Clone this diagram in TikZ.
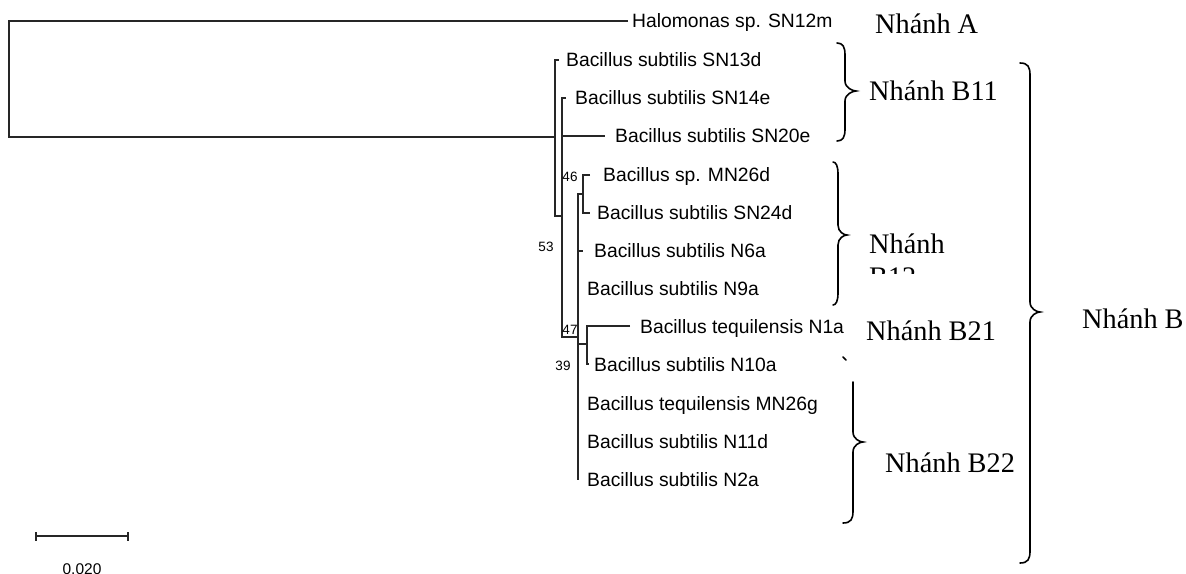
\documentclass[tikz,border=0pt]{standalone}
\usepackage{fontspec}
\setmainfont{Liberation Serif}
\newfontfamily\arialf{Liberation Sans}
\newcommand\wbrace[6]{% #1 hook x, #2 body x, #3 top y, #4 tip y, #5 bottom y, #6 tip x
  \draw[bracestyle] (#1,#3) .. controls (#2-2,#3) and (#2,#3+4) .. (#2,#3+12)
    -- (#2,#4-10) .. controls (#2,#4-3) and (#6-3,#4) .. (#6,#4)
    .. controls (#6-3,#4) and (#2,#4+3) .. (#2,#4+10)
    -- (#2,#5-12) .. controls (#2,#5-4) and (#2-2,#5) .. (#1,#5);}
\tikzset{
  treeline/.style={draw=black!85, line width=1.2pt},
  bracestyle/.style={draw=black, line width=1.6pt, line cap=round},
  leaf/.style={font=\arialf\fontsize{19.3}{22}\selectfont, anchor=west, inner sep=0pt, text height=13.8pt, text depth=0pt},
  boot/.style={font=\arialf\fontsize{13.5}{15}\selectfont, inner sep=0pt},
  clade/.style={font=\fontsize{28.3}{33}\selectfont, anchor=base west, inner sep=0pt},
}
\begin{document}
\begin{tikzpicture}[x=1pt, y=-1pt]
\useasboundingbox (0,0) rectangle (1186,573);
\clip (0,0) rectangle (1186,573);
% internal nodes
\coordinate (r)  at (9,78);
\coordinate (n1) at (555,137);
\coordinate (n2) at (562,216);
\coordinate (n3) at (578,337);
\coordinate (n4) at (583,194);
\coordinate (n5) at (587,344);
% leaf tips
\coordinate (tHal)  at (628,21);
\coordinate (tSN13d) at (559,60);
\coordinate (tSN14e) at (566,98);
\coordinate (tSN20e) at (605,136);
\coordinate (tMN26d) at (590,175);
\coordinate (tSN24d) at (590,213);
\coordinate (tN6a)  at (583,251);
\coordinate (tN9a)  at (578,289);
\coordinate (tN1a)  at (630,326);
\coordinate (tN10a) at (589,364);
\coordinate (tMN26g) at (578,404);
\coordinate (tN11d) at (578,442);
\coordinate (tN2a)  at (578,480);
% leaf labels
\node[leaf] (lHal)   at (632,21)  {Halomonas sp. SN12m};
\node[leaf] (lSN13d) at (566,60)  {Bacillus subtilis SN13d};
\node[leaf] (lSN14e) at (575,98)  {Bacillus subtilis SN14e};
\node[leaf] (lSN20e) at (615,136) {Bacillus subtilis SN20e};
\node[leaf] (lMN26d) at (603,175) {Bacillus sp. MN26d};
\node[leaf] (lSN24d) at (597,213) {Bacillus subtilis SN24d};
\node[leaf] (lN6a)   at (594,251) {Bacillus subtilis N6a};
\node[leaf] (lN9a)   at (587,289) {Bacillus subtilis N9a};
\node[leaf] (lN1a)   at (640,327) {Bacillus tequilensis N1a};
\node[leaf] (lN10a)  at (594,365) {Bacillus subtilis N10a};
\node[leaf] (lMN26g) at (587,404) {Bacillus tequilensis MN26g};
\node[leaf] (lN11d)  at (587,442) {Bacillus subtilis N11d};
\node[leaf] (lN2a)   at (587,480) {Bacillus subtilis N2a};
% branches
\draw[treeline] (tHal) -| (r) |- (n1);
\draw[treeline] (tSN13d) -| (n1) |- (n2);
\draw[treeline] (tSN14e) -| (n2) |- (n3);
\draw[treeline] (n2 |- tSN20e) -- (tSN20e);
\draw[treeline] (n4) -| (n3) |- (tN2a);
\draw[treeline] (n3 |- tN6a) -- (tN6a);
\draw[treeline] (n3 |- n5) -- (n5);
\draw[treeline] (tMN26d) -| (n4) |- (tSN24d);
\draw[treeline] (tN1a) -| (n5) |- (tN10a);
% bootstrap values
\node[boot] (b46) at (570,177) {46};
\node[boot] (b53) at (546,247) {53};
\node[boot] (b47) at (570,330) {47};
\node[boot] (b39) at (563,366) {39};
% scale bar
\coordinate (s1) at (36,536);
\coordinate (s2) at (128,536);
\draw[treeline] (s1) -- (s2);
\draw[treeline] ([yshift=-4.5pt]s1) -- ([yshift=4.5pt]s1);
\draw[treeline] ([yshift=-4.5pt]s2) -- ([yshift=4.5pt]s2);
\node[font=\arialf\fontsize{15.5}{17}\selectfont, inner sep=0pt, anchor=north] (sl) at (82,563) {0.020};
% braces
\wbrace{837}{845}{43}{91}{141}{856}
\wbrace{833}{838}{162}{235}{305}{847}
\wbrace{1020}{1030}{63}{312}{563}{1040}
\draw[bracestyle] (853,382) -- (853,432) .. controls (853,439) and (860,442) .. (863,442)
  .. controls (860,442) and (853,445) .. (853,452) -- (853,511) .. controls (853,519) and (851,523) .. (843,523);
\draw[bracestyle] (843,357) -- (846,360);
% clade labels
\node[clade] (cA)   at (875,33)  {Nhánh A};
\node[clade] (cB11) at (869,100) {Nhánh B11};
\begin{scope}
  \clip (860,200) rectangle (1000,273);
  \node[clade] (cB12) at (869,286) {\begin{tabular}[b]{@{}l@{}}Nhánh\\B12\end{tabular}};
\end{scope}
\node[clade] (cB21) at (866,340) {Nhánh B21};
\node[clade] (cB22) at (885,472) {Nhánh B22};
\node[clade] (cB)   at (1082,328) {Nhánh B};
\end{tikzpicture}
\end{document}
